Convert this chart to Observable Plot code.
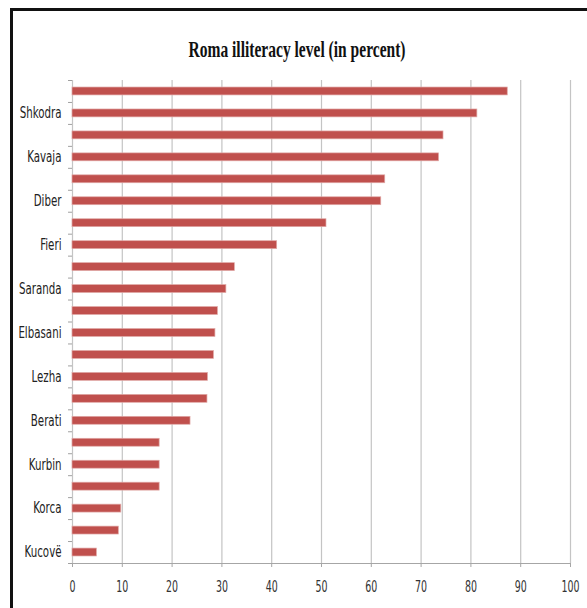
<!DOCTYPE html>
<html>
<head>
<meta charset="utf-8">
<script src="https://cdn.jsdelivr.net/npm/d3@7"></script>
<script src="https://cdn.jsdelivr.net/npm/@observablehq/plot@0.6"></script>
<style>
  html, body { margin: 0; padding: 0; background: #fff; overflow: hidden; }
  #wrap { position: relative; width: 587px; height: 608px; overflow: hidden; }
  #frame { position: absolute; left: 10px; top: 8px; width: 620px; height: 640px; border: 3px solid #111; box-sizing: border-box; pointer-events: none; }
  #title { position: absolute; left: 0; top: 0; white-space: nowrap; font-family: "Liberation Serif", "Times New Roman", serif; font-weight: bold; font-size: 23px; line-height: 1; color: #111; transform-origin: 0 0; }
  #chart { position: absolute; left: 0; top: 0; }
</style>
</head>
<body>
<div id="wrap">
  <div id="chart"></div>
  <div id="title">Roma illiteracy level (in percent)</div>
  <div id="frame"></div>
</div>
<script>
// 22 categories, top to bottom; only every other one is labelled in the original
const categories = [
  "(unlabelled 1)", "Shkodra", "(unlabelled 2)", "Kavaja", "(unlabelled 3)", "Diber",
  "(unlabelled 4)", "Fieri", "(unlabelled 5)", "Saranda", "(unlabelled 6)", "Elbasani",
  "(unlabelled 7)", "Lezha", "(unlabelled 8)", "Berati", "(unlabelled 9)", "Kurbin",
  "(unlabelled 10)", "Korca", "(unlabelled 11)", "Kucovë"
];
const values = [
  87.4, 81.3, 74.5, 73.6, 62.8, 62.0,
  51.0, 41.1, 32.6, 30.9, 29.2, 28.7,
  28.4, 27.2, 27.1, 23.7, 17.5, 17.5,
  17.5, 9.8, 9.3, 4.9
];
const shownLabels = ["Shkodra", "Kavaja", "Diber", "Fieri", "Saranda", "Elbasani", "Lezha", "Berati", "Kurbin", "Korca", "Kucovë"];
const xTicks = [0, 10, 20, 30, 40, 50, 60, 70, 80, 90, 100];

const n = categories.length;
const data = categories.map((c, i) => ({category: c, index: i, value: values[i]}));
const barInset = 0.32; // fraction of each category slot left empty above and below a bar
const boundaries = d3.range(n + 1);
const labelPositions = data.filter(d => shownLabels.includes(d.category)).map(d => d.index + 0.5);

const W = 587, H = 608;
const font = '"DejaVu Sans Condensed", "Liberation Sans", sans-serif';

const plot = Plot.plot({
  width: W,
  height: H,
  marginTop: 80,
  marginBottom: 45,
  marginLeft: 72,
  marginRight: 17,
  style: { fontFamily: font, fontSize: "15px", color: "#333", background: "transparent" },
  x: { domain: [0, 100], ticks: xTicks, label: null },
  y: { domain: [0, n], reverse: true, label: null },
  marks: [
    Plot.gridX(xTicks.filter(d => d > 0), { stroke: "#c4c4c4", strokeOpacity: 1, strokeWidth: 1.2 }),
    Plot.ruleX([0], { stroke: "#c4c4c4", strokeWidth: 1.2 }),
    Plot.rectX(data, { x1: 0, x2: "value", y1: d => d.index + barInset, y2: d => d.index + 1 - barInset,
      fill: "#C0504D", stroke: "#e0a8a6", strokeWidth: 0.7 }),
    // category boundary ticks on the vertical axis
    Plot.ruleY(boundaries, { x1: -0.8, x2: 0, stroke: "#a0a0a0", clip: false }),
    Plot.ruleY([n], { x1: 0, x2: 100, stroke: "#a6a6a6", strokeWidth: 1.2 }),
    Plot.axisX({ ticks: xTicks, tickSize: 4, tickPadding: 14, stroke: "#a6a6a6", fontSize: 15, fill: "#333", label: null }),
    Plot.axisY({ ticks: labelPositions, tickSize: 0, tickPadding: 11, fontSize: 15, fill: "#222",
      tickFormat: v => categories[Math.floor(v)], label: null })
  ]
});

document.getElementById("chart").appendChild(plot);

// The reference's text is horizontally compressed; narrow the glyphs to match.
function squeeze(selector, k) {
  plot.querySelectorAll(selector).forEach(t => {
    const len = t.getComputedTextLength();
    if (len > 0) {
      t.setAttribute("textLength", (len * k).toFixed(2));
      t.setAttribute("lengthAdjust", "spacingAndGlyphs");
    }
  });
}
squeeze('g[aria-label="y-axis tick label"] text', 0.76);
squeeze('g[aria-label="x-axis tick label"] text', 0.7);

// Title: centred at x≈297, spanning ≈217px, cap top ≈43px
const title = document.getElementById("title");
const tw = title.getBoundingClientRect().width;
const k = 217 / tw;
title.style.transform = `translate(${297 - 217 / 2}px, 38px) scaleX(${k})`;
</script>
</body>
</html>
